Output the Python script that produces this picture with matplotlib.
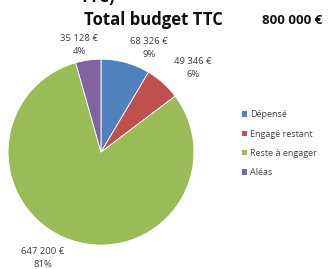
import matplotlib
matplotlib.use("Agg")
import matplotlib.pyplot as plt
from matplotlib.patches import Patch

categories = ["Dépensé", "Engagé restant", "Reste à engager", "Aléas"]
values = [68326, 49346, 647200, 35128]
percents = ["9%", "6%", "81%", "4%"]
value_labels = ["68 326 €", "49 346 €", "647 200 €", "35 128 €"]
colors = ["#4F81BD", "#C0504D", "#9BBB59", "#8064A2"]
total_label = "800 000 €"
title = "Total budget TTC"

W, H = 328, 269
fig = plt.figure(figsize=(W/100, H/100), dpi=100)
fig.patch.set_facecolor("white")
font = "Open Sans"

def px(x, y):
    return x / W, 1 - y / H

ax = fig.add_axes([0.0244, 0.089, 0.567, 0.691])
ax.pie(values, colors=colors, startangle=90, counterclock=False,
       wedgeprops=dict(linewidth=0.6, edgecolor="white"))
ax.set_xlim(-1, 1)
ax.set_ylim(-1, 1)
ax.set_aspect("equal")
ax.axis("off")

# Clipped text at the very top (as in the reference)
fig.text(*px(97, -3), "TTC)", fontsize=12, fontweight="bold", family=font,
         ha="center", va="center", color="#111111")

fig.text(*px(153, 20), title, fontsize=12, fontweight="bold", family=font,
         ha="center", va="center", color="#111111")
fig.text(*px(292, 20), total_label, fontsize=9.5, fontweight="bold", family=font,
         ha="center", va="center", color="#111111")

label_pos = [(149, 48), (193, 68), (43, 258), (79, 45)]
for (x, y), v, p in zip(label_pos, value_labels, percents):
    fig.text(*px(x, y), f"{v}\n{p}", fontsize=6.8, family=font, ha="center",
             va="center", color="#404040", linespacing=1.6)

handles = [Patch(facecolor=c, edgecolor="none") for c in colors]
leg = fig.legend(handles, categories, loc="upper left",
                 bbox_to_anchor=px(234, 102), frameon=False,
                 prop=dict(family=font, size=6.5), handlelength=0.55,
                 handleheight=0.55, handletextpad=0.35, labelspacing=1.15,
                 labelcolor="#404040")

fig.savefig("out.png", dpi=100, facecolor="white")
